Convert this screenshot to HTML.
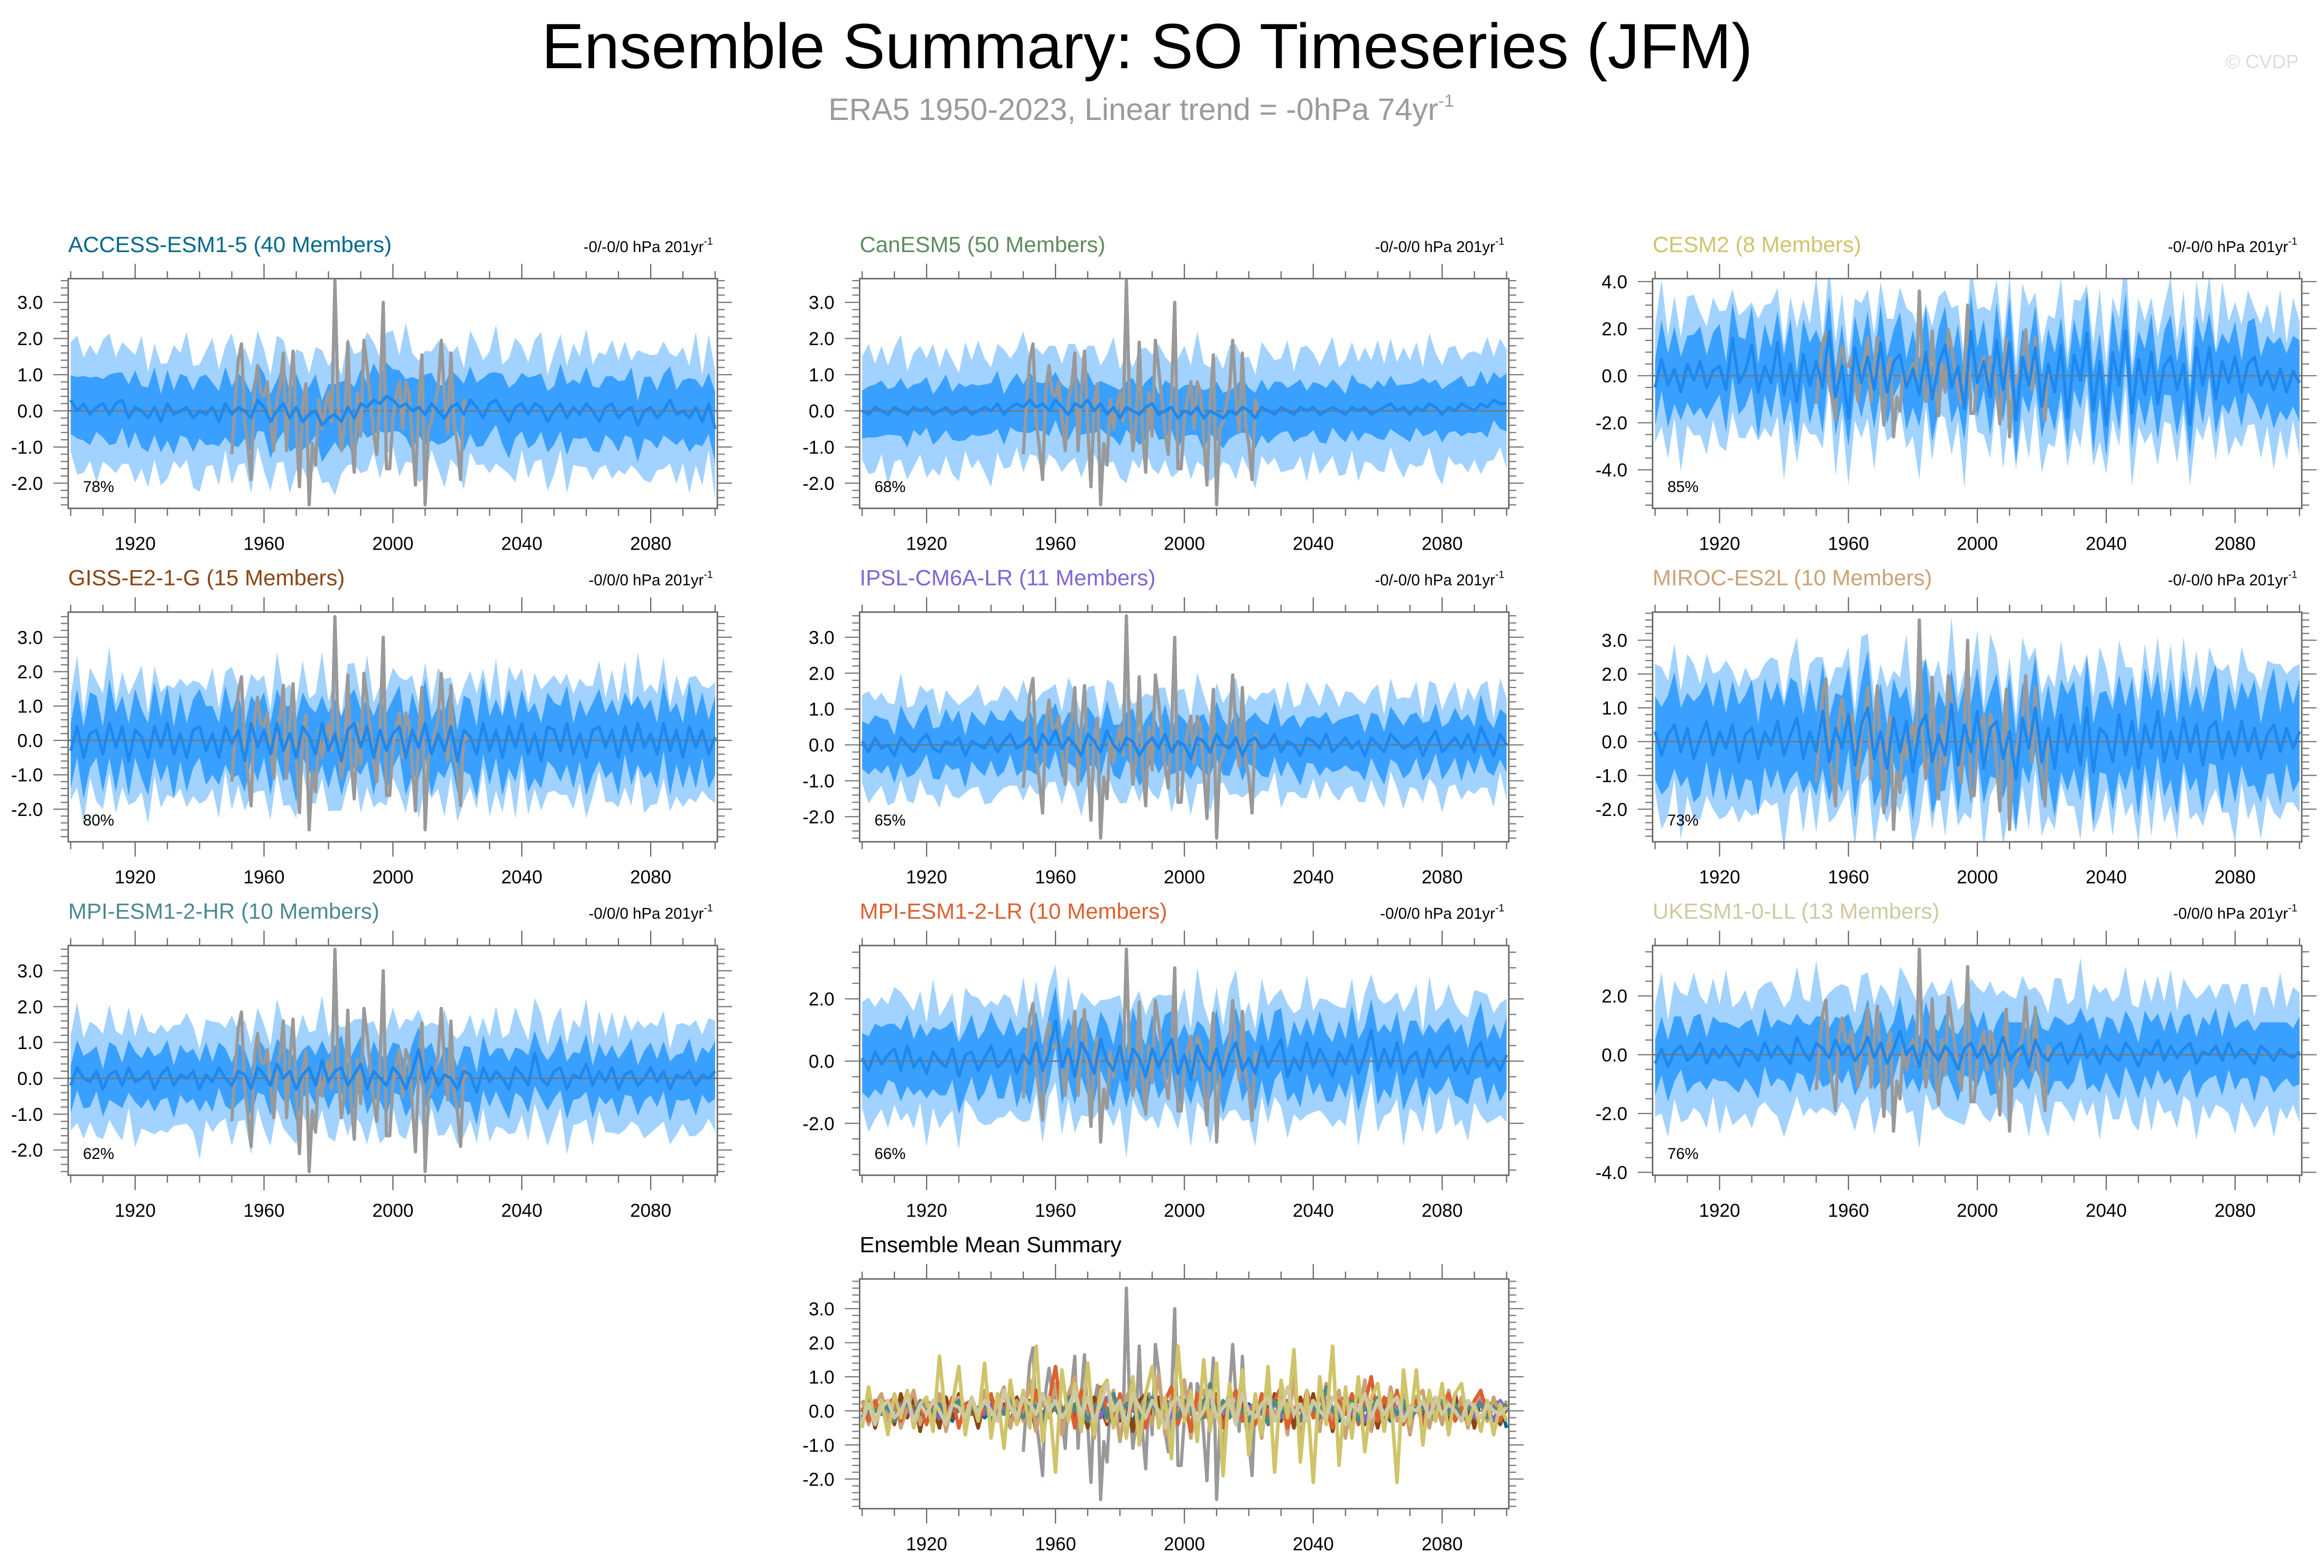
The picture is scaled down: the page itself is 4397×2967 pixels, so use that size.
<!DOCTYPE html>
<html><head><meta charset="utf-8"><title>Ensemble Summary: SO Timeseries (JFM)</title>
<style>
html,body{margin:0;padding:0;background:#fff;}
svg{display:block;font-family:"Liberation Sans",Arial,sans-serif;}
</style></head>
<body>
<svg id="chart" xmlns="http://www.w3.org/2000/svg" width="4397" height="2967" viewBox="0 0 1568 1058">
<rect x="0" y="0" width="1568" height="1058" fill="#fff"/>
<text x="774" y="46" font-size="43" text-anchor="middle" fill="#000">Ensemble Summary: SO Timeseries (JFM)</text>
<text x="770" y="81" font-size="21" text-anchor="middle" fill="#9a9a9a">ERA5 1950-2023, Linear trend = -0hPa 74yr<tspan dy="-9" font-size="12">-1</tspan></text>
<text x="1551" y="46" font-size="13" text-anchor="end" fill="#dcdcdc">© CVDP</text>
<g id="plots"></g>
</svg>
<script>
// ---------- data ----------
const obsYears0 = 1950;
const obsValues = [-1.2,0.2,1.4,1.85,-0.3,-1.0,-1.9,0.6,1.25,0.5,0.4,0.8,-0.2,-1.1,0.3,0.7,1.6,-1.1,0.5,1.65,-0.4,-2.1,0.2,0.75,-2.6,-0.9,-1.5,0.3,-0.5,0.1,0.5,-0.3,3.6,0.2,-1.1,-0.4,1.9,-0.6,-1.7,0.5,-0.7,1.95,1.2,0.3,-0.6,-1.2,0.4,3.0,-1.6,-1.6,-0.2,0.4,0.8,-0.5,0.8,0.5,-0.7,-2.05,0.2,1.55,-2.6,-0.5,-0.3,0.2,0.6,1.95,0.4,-0.6,1.6,-0.4,-0.9,-1.9,0.3,0.0];
const modelYearStart = 1900;
const modelYearEnd = 2100;
const tickYears = [1920,1960,2000,2040,2080];

const outHi = [1.0,1.3,0.8,1.2,0.9,1.1,1.4,0.8,1.0,1.2,0.9,1.3,0.8,1.1,1.0,0.7,1.2,1.0,1.3,0.9,0.8,1.1,1.2,0.9,1.0,1.4,0.8,1.1,0.9,1.2,1.0,0.8,1.3,1.1,0.9,1.0,1.2,0.7,1.1,1.3,0.9,1.0,0.8,1.2,1.1,0.9,1.3,1.0,0.8,1.1,1.2,0.9,1.4,1.0,0.8,1.1,0.9,1.2,1.3,0.9,1.0,0.8,1.2,1.1,1.0,0.9,1.3,0.8,1.1,1.2,1.0,0.9,1.1,1.3,0.8,1.0,1.2,0.9,1.1,1.0,1.3,0.8,1.2,0.9,1.1,1.0,1.2,0.8,1.3,1.0,0.9,1.1,1.2,0.8,1.0,1.1,0.9,1.3,0.8,1.2,1.0];
const outLo = [0.9,1.1,1.2,0.8,1.3,1.0,0.9,1.2,1.1,0.8,1.3,1.0,1.2,0.9,1.1,1.3,0.8,1.0,0.9,1.2,1.4,0.9,1.0,1.1,0.8,1.2,1.0,0.9,1.3,0.8,1.1,1.2,0.9,1.0,1.3,1.1,0.8,1.2,0.9,1.0,1.1,1.4,0.9,1.0,0.8,1.2,1.1,0.9,1.3,1.0,0.8,1.2,1.0,0.9,1.3,1.1,0.8,1.0,1.2,0.9,1.1,1.3,0.9,1.0,0.8,1.2,1.1,1.0,0.9,1.3,0.8,1.1,1.0,0.9,1.2,1.1,0.8,1.3,1.0,0.9,1.1,1.2,0.8,1.0,1.3,0.9,1.1,1.0,0.8,1.2,1.3,0.9,1.0,1.1,1.2,0.9,1.3,1.0,1.1,0.8,1.2];
const inHi = [0.8,1.1,0.9,1.2,1.0,0.8,1.3,1.0,0.9,1.1,1.2,0.8,1.0,1.3,0.9,1.1,0.8,1.2,1.0,0.9,1.1,1.3,0.8,1.0,1.2,0.9,1.1,1.0,0.8,1.2,1.1,0.9,1.0,1.3,0.8,1.1,1.0,0.9,1.2,0.8,1.1,1.0,1.3,0.9,1.0,1.1,0.8,1.2,0.9,1.1,1.0,1.2,0.8,1.1,0.9,1.3,1.0,0.8,1.1,1.2,0.9,1.0,1.1,0.8,1.3,1.0,0.9,1.2,1.1,0.8,1.0,1.2,0.9,1.1,1.0,0.8,1.3,1.1,0.9,1.0,1.2,0.8,1.1,1.0,0.9,1.2,1.0,1.3,0.8,1.1,1.0,0.9,1.2,1.1,0.8,1.0,1.3,0.9,1.1,1.0,1.2];
const inLo = [1.1,0.9,1.2,1.0,0.8,1.1,1.0,1.3,0.9,1.0,0.8,1.2,1.1,0.9,1.0,1.2,1.3,0.8,1.0,1.1,0.9,1.0,1.2,0.8,1.1,1.0,1.3,0.9,1.1,1.0,0.8,1.2,1.0,0.9,1.1,1.3,0.9,1.0,0.8,1.2,1.1,0.9,1.0,1.2,1.3,0.8,1.0,1.1,0.9,1.2,1.0,0.8,1.1,1.3,0.9,1.0,1.2,1.1,0.8,1.0,0.9,1.2,1.1,1.3,0.9,1.0,0.8,1.1,1.2,1.0,0.9,1.1,1.3,0.8,1.0,1.1,0.9,1.2,1.0,0.8,1.1,1.3,1.0,0.9,1.2,1.1,0.8,1.0,1.2,0.9,1.1,1.0,0.8,1.3,1.0,0.9,1.1,1.2,0.8,1.0,1.1];

const meanACCESS = [0.3,0.0,0.2,-0.1,0.1,0.2,-0.1,0.2,0.3,-0.2,0.1,0.0,-0.2,0.1,-0.3,0.2,-0.1,0.0,0.1,-0.2,0.0,-0.1,0.1,-0.3,0.2,-0.1,0.1,0.0,-0.2,0.3,0.1,-0.3,0.0,0.2,-0.2,0.1,-0.3,-0.1,0.0,-0.4,-0.2,-0.1,-0.3,0.1,-0.2,0.2,0.1,0.3,0.2,0.4,0.3,0.1,0.2,0.0,0.1,-0.1,0.2,0.0,-0.2,0.1,0.2,-0.1,0.3,0.1,-0.2,0.2,0.3,0.0,-0.3,0.1,0.2,-0.1,0.2,0.1,-0.3,0.0,0.2,-0.2,0.1,-0.1,0.2,0.0,-0.3,0.1,0.2,-0.2,0.0,0.1,-0.4,0.0,0.1,-0.2,0.0,0.3,-0.1,0.0,-0.2,0.1,-0.3,0.2,-0.5];
const meanCanESM5 = [0.0,-0.1,0.1,0.0,-0.1,0.1,0.0,-0.1,0.1,0.0,0.1,-0.1,0.0,0.1,-0.1,0.0,0.1,-0.1,0.0,0.1,0.0,0.2,-0.1,0.1,0.2,0.1,0.3,0.1,0.2,0.0,0.3,0.1,-0.1,0.2,0.1,0.3,0.0,0.2,-0.1,0.1,-0.2,0.1,0.0,-0.1,0.1,0.2,-0.1,0.0,0.1,-0.2,0.0,-0.1,0.1,-0.2,0.0,-0.1,-0.2,0.0,-0.1,0.1,0.0,-0.2,0.1,0.0,-0.1,0.1,0.0,-0.1,0.1,0.0,0.1,-0.1,0.0,0.1,0.0,-0.1,0.1,0.0,0.1,-0.1,0.0,0.1,0.2,0.0,0.1,-0.1,0.1,0.0,0.2,0.1,-0.1,0.1,0.0,0.2,0.1,0.0,0.2,0.1,0.3,0.2,0.2];
const meanCESM2 = [-0.5,0.7,-0.4,0.3,-0.7,0.5,-0.2,0.6,-0.5,0.2,0.4,-0.6,1.6,-0.3,0.2,1.3,-0.7,0.4,-0.3,1.4,-0.8,0.5,-1.1,0.9,-0.4,0.6,-0.5,1.9,-0.9,0.4,-1.8,1.2,-0.3,0.8,-0.6,1.4,-0.7,0.6,0.9,-0.5,0.3,-0.8,1.0,-1.0,0.5,1.3,-0.5,0.4,-1.4,1.9,-0.3,0.6,-0.9,1.5,-0.6,1.4,-1.9,0.8,-0.4,1.2,-1.3,0.5,-0.7,1.3,-1.8,0.9,-0.2,1.8,-1.5,0.6,-2.1,1.0,-0.4,1.9,-1.6,0.7,-0.8,1.0,-1.2,0.4,0.8,-0.6,0.5,-2.1,1.2,-0.4,1.2,-1.0,0.6,-0.3,0.8,-0.7,0.5,0.8,-0.4,0.2,-0.6,0.3,-0.7,0.2,-0.3];
const meanGISS = [-0.3,0.4,-0.5,0.2,0.3,-0.4,0.5,-0.2,0.4,-0.6,0.3,0.1,-0.5,0.4,-0.2,0.5,-0.4,0.2,-0.5,0.3,0.4,-0.3,0.2,-0.5,0.4,-0.1,0.3,-0.6,0.5,-0.2,0.3,-0.4,0.5,-0.3,0.2,-0.5,0.4,0.1,-0.4,0.5,-0.3,0.2,-0.6,0.3,0.5,-0.2,0.4,-0.5,0.3,-0.3,0.2,0.4,-0.5,0.3,-0.2,0.5,-0.4,0.2,-0.3,0.4,-0.6,0.3,0.1,-0.4,0.5,-0.3,0.3,-0.5,0.4,-0.2,0.5,-0.4,0.2,-0.6,0.4,0.3,-0.3,0.5,-0.4,0.2,-0.5,0.3,0.4,-0.2,0.3,-0.5,0.4,-0.3,0.5,-0.2,0.2,-0.4,0.5,-0.3,0.3,-0.5,0.4,-0.2,0.3,-0.4,0.1];
const meanIPSL = [0.1,-0.2,0.2,-0.1,0.0,-0.3,0.2,0.0,-0.2,0.1,0.3,-0.1,-0.2,0.1,0.0,0.2,-0.3,0.1,0.0,-0.1,0.2,-0.2,0.1,0.3,-0.1,0.0,0.2,-0.2,0.3,0.0,0.4,-0.1,0.2,0.0,-0.3,0.3,0.1,-0.2,0.4,0.0,-0.2,0.2,0.1,-0.3,0.0,0.2,-0.1,0.3,-0.2,0.1,0.0,-0.4,0.2,0.1,-0.2,0.3,0.0,-0.1,0.2,-0.3,0.1,0.2,-0.1,0.0,0.3,-0.2,0.1,0.0,-0.3,0.2,0.1,-0.1,0.3,-0.2,0.0,0.2,-0.1,0.1,-0.3,0.2,0.0,-0.2,0.3,0.1,-0.1,0.0,0.2,-0.3,0.1,0.4,-0.2,0.0,0.2,-0.1,0.3,-0.2,0.5,0.1,-0.3,0.3,0.0];
const meanMIROC = [0.3,-0.4,0.2,0.5,-0.3,0.4,-0.5,0.1,0.6,-0.4,0.3,-0.2,0.5,-0.6,0.2,0.4,-0.5,0.3,-0.1,0.6,-0.4,0.2,0.7,-0.5,0.3,-0.3,0.9,-0.6,0.4,-0.2,0.8,-0.7,0.5,1.0,-0.5,0.3,-0.8,0.7,-0.3,0.6,-0.9,0.4,0.8,-0.6,0.2,-0.4,1.1,-0.7,0.5,-0.3,0.9,-0.8,0.4,0.6,-0.5,0.3,-1.1,0.7,-0.2,1.0,-0.6,0.4,-0.8,0.8,-0.3,0.5,-0.7,1.0,-0.9,0.4,0.2,-0.6,0.8,-0.4,0.6,-0.8,0.5,-0.2,0.9,-0.6,0.3,-0.5,0.7,-0.3,0.5,-0.7,0.4,0.6,-0.5,0.3,-0.4,0.6,-0.3,0.4,-0.5,0.2,0.5,-0.3,0.4,-0.2,0.3];
const meanMPIHR = [-0.2,0.3,0.0,-0.1,0.2,-0.3,0.1,0.2,-0.2,0.3,-0.1,0.0,0.2,-0.3,0.1,0.3,-0.2,0.1,0.0,0.2,-0.3,0.1,-0.1,0.3,0.0,-0.2,0.2,0.1,-0.3,0.3,0.1,-0.2,0.4,0.0,0.2,-0.3,0.1,0.3,-0.2,0.5,-0.1,0.2,0.3,-0.2,0.1,0.4,-0.3,0.2,0.0,-0.2,0.3,0.1,-0.3,0.2,0.8,-0.1,0.3,-0.2,0.1,0.0,-0.3,0.2,0.1,-0.4,0.3,-0.1,0.2,0.0,-0.3,0.3,0.1,-0.2,0.7,0.0,-0.2,0.2,0.3,-0.3,0.1,0.0,0.4,-0.2,0.2,-0.1,0.3,-0.3,0.1,0.2,-0.2,0.0,0.3,-0.1,0.2,-0.3,0.1,0.0,0.2,-0.2,0.1,0.0,0.2];
const meanMPILR = [0.1,-0.3,0.3,-0.1,0.2,0.4,-0.3,0.5,-0.2,0.1,-0.4,0.3,0.0,-0.2,0.4,-0.5,0.2,0.3,-0.3,0.1,0.5,-0.2,0.0,0.4,-0.4,0.2,-0.1,0.6,-0.3,0.3,1.3,-0.2,0.4,-0.5,0.6,0.2,-0.4,0.7,0.0,-0.3,0.5,-0.6,0.4,0.1,-0.5,0.4,-0.2,0.3,0.7,-0.4,0.2,-0.6,0.5,0.0,-0.3,0.4,-0.5,0.2,0.6,-0.3,0.1,-0.4,0.5,-0.2,0.3,0.7,-0.5,0.1,-0.3,0.6,-0.2,0.4,0.0,-0.5,0.3,-0.1,0.5,-0.4,0.2,1.0,-0.3,0.4,-0.2,0.6,-0.4,0.1,0.3,-0.5,0.4,-0.2,0.2,0.5,-0.3,0.1,-0.4,0.3,0.6,-0.2,0.1,-0.3,0.2];
const meanUKESM = [-0.3,0.2,-0.4,0.1,0.3,-0.2,0.0,0.4,-0.3,0.2,-0.1,0.3,0.0,-0.4,0.2,0.1,-0.2,0.4,-0.1,0.3,0.0,-0.3,0.6,0.1,-0.2,0.4,0.2,-0.1,0.5,0.0,0.3,-0.2,0.1,0.6,-0.1,0.4,-0.3,0.2,0.8,0.0,0.3,-0.4,0.5,0.1,-0.2,0.3,0.0,-0.5,0.2,0.4,-0.1,0.3,-0.3,0.0,0.6,-0.2,0.1,0.3,-0.4,0.5,0.0,-0.2,0.2,0.4,-0.3,0.1,0.7,-0.1,0.2,-0.3,0.3,0.0,-0.2,0.4,0.1,-0.4,0.2,0.0,0.5,-0.2,0.3,-0.1,0.2,0.4,-0.3,0.1,0.0,0.3,-0.2,0.4,-0.1,0.2,0.0,-0.3,0.3,0.1,-0.2,0.2,0.0,-0.1,0.1];

const modelNames = ["ACCESS-ESM1-5 (40 Members)","CanESM5 (50 Members)","CESM2 (8 Members)","GISS-E2-1-G (15 Members)","IPSL-CM6A-LR (11 Members)","MIROC-ES2L (10 Members)","MPI-ESM1-2-HR (10 Members)","MPI-ESM1-2-LR (10 Members)","UKESM1-0-LL (13 Members)"];
const modelMeans = [meanACCESS,meanCanESM5,meanCESM2,meanGISS,meanIPSL,meanMIROC,meanMPIHR,meanMPILR,meanUKESM];
const outerSpread = [1.6,1.5,2.6,1.6,1.3,2.0,1.4,1.8,2.0];
const innerSpread = [0.85,0.7,1.5,1.0,0.7,1.3,0.7,1.0,1.0];
const trendLabels = ["-0/-0/0","-0/-0/0","-0/-0/0","-0/0/0","-0/-0/0","-0/-0/0","-0/0/0","-0/0/0","-0/0/0"];
const pctLabels = ["78%","68%","85%","80%","65%","73%","62%","66%","76%"];
const ticks3 = [3,2,1,0,-1,-2];
const ticks4 = [4,2,0,-2,-4];
const ticks2 = [2,0,-2];
const ticks2b = [2,0,-2,-4];

// ---------- layout (not data) ----------
const titleColors = ["#00688b","#5e8c5e","#cfc46a","#8b4513","#8064d8","#caa274","#4b8a8e","#dc6030","#cfc9a2"];
const colX = [46,580,1115];
const rowY = [188,413,638,863];
const BW = 438, BH = 155;
const yCal = [[3,204,-2,326],[3,204,-2,326],[4,190,-4,317],[3,430,-2,546],[3,430,-2,551],[3,432,-2,546],[3,655,-2,776],[2,674,-2,758],[2,672,-4,791],[3,883,-2,998]];
const tickSets = [ticks3,ticks3,ticks4,ticks3,ticks3,ticks3,ticks3,ticks2,ticks2b,ticks3];

const NS = "http://www.w3.org/2000/svg";
const root = document.getElementById("plots");
function mk(tag, attrs, parent){
  const e = document.createElementNS(NS, tag);
  for (const k in attrs) e.setAttribute(k, attrs[k]);
  (parent||root).appendChild(e);
  return e;
}

function drawPanel(idx, bx, by, title, tColor, trend, pct, isSummary){
  const g = mk("g", {});
  
  
  const cal = yCal[idx];
  const uy = (cal[3]-cal[1])/(cal[0]-cal[2]);
  const zeroY = cal[1] + cal[0]*uy;
  const yS = v => zeroY - v*uy;
  const x0 = bx + 1.7, x1 = bx + BW - 1.5;
  const xS = yr => x0 + (yr - modelYearStart)/(modelYearEnd - modelYearStart)*(x1 - x0);
  const clipId = "clip" + idx;
  const cp = mk("clipPath", {id: clipId}, g);
  mk("rect", {x: bx, y: by, width: BW, height: BH}, cp);
  const plot = mk("g", {"clip-path": "url(#" + clipId + ")"}, g);

  function seriesX(arr, i){ return modelYearStart + i*(modelYearEnd-modelYearStart)/(arr.length-1); }
  function bandPath(mean, hiArr, loArr, s){
    let up = [], dn = [];
    for (let i=0;i<mean.length;i++){
      const yr = seriesX(mean,i);
      up.push(xS(yr).toFixed(2)+","+yS(mean[i]+s*hiArr[i%hiArr.length]).toFixed(2));
      dn.push(xS(yr).toFixed(2)+","+yS(mean[i]-s*loArr[i%loArr.length]).toFixed(2));
    }
    return "M"+up.join("L")+"L"+dn.reverse().join("L")+"Z";
  }
  function linePath(arr, start, step){
    return arr.map((v,i)=> (i?"L":"M") + xS(start+i*step).toFixed(2)+","+yS(v).toFixed(2)).join("");
  }

  if (!isSummary){
    const mean = modelMeans[idx];
    const ob = mk("path", {d: bandPath(mean, outHi, outLo, outerSpread[idx]), fill: "#a2d2ff"}, plot);
    
    
    const ib = mk("path", {d: bandPath(mean, inHi, inLo, innerSpread[idx]), fill: "#3aa0ff"}, plot);
    
    
  }
  const zl = mk("line", {x1: bx, x2: bx+BW, y1: zeroY, y2: zeroY, stroke: "#777", "stroke-width": 1}, plot);
  
  
  const obs = mk("path", {d: linePath(obsValues, obsYears0, 1), fill: "none", stroke: "#999", "stroke-width": 2.2, "stroke-linejoin": "round"}, plot);
  
  
  if (!isSummary){
    const mean = modelMeans[idx];
    const ml = mk("path", {d: linePath(mean, modelYearStart, (modelYearEnd-modelYearStart)/(mean.length-1)), fill: "none", stroke: "#1e88ee", "stroke-width": 2.0, "stroke-linejoin": "round"}, plot);
    
    
  } else {
    const order = [0,1,3,4,5,7,6,2,8];
    order.forEach(k => {
      const mean = modelMeans[k];
      const l = mk("path", {d: linePath(mean, modelYearStart, (modelYearEnd-modelYearStart)/(mean.length-1)), fill: "none", stroke: titleColors[k], "stroke-width": 2.4, "stroke-linejoin": "round"}, plot);
      
      
    });
  }
  const fr = mk("rect", {x: bx, y: by, width: BW, height: BH, fill: "none", stroke: "#666", "stroke-width": 1}, g);
  
  
  for (let yr = modelYearStart; yr <= modelYearEnd; yr += 10){
    const maj = tickYears.indexOf(yr) >= 0;
    const L = maj ? 10 : 5;
    const x = xS(yr);
    mk("line", {x1:x, x2:x, y1:by, y2:by-L, stroke:"#666", "stroke-width":0.8}, g);
    mk("line", {x1:x, x2:x, y1:by+BH, y2:by+BH+L, stroke:"#666", "stroke-width":0.8}, g);
  }
  tickYears.forEach(yr => {
    const t = mk("text", {x: xS(yr), y: by+BH+28, "font-size": 12.5, "text-anchor": "middle", fill: "#000"}, g);
    t.textContent = yr;
    
    
  });
  const ticks = tickSets[idx];
  const stepMaj = Math.abs(ticks[0]-ticks[1]);
  const minorStep = stepMaj >= 2 ? 0.5 : 0.2;
  const vTop = (zeroY - by)/uy, vBot = (zeroY - by - BH)/uy;
  for (let k = Math.ceil(vBot/minorStep); k*minorStep <= vTop + 1e-6; k++){
    const v = k*minorStep;
    const yy = yS(v);
    const isMaj = ticks.some(t => Math.abs(t - v) < 1e-6);
    const L = isMaj ? 10 : 5;
    mk("line", {x1:bx, x2:bx-L, y1:yy, y2:yy, stroke:"#777", "stroke-width":0.8}, g);
    mk("line", {x1:bx+BW, x2:bx+BW+L, y1:yy, y2:yy, stroke:"#777", "stroke-width":0.8}, g);
  }
  ticks.forEach(v => {
    const t = mk("text", {x: bx-17, y: yS(v)+4.5, "font-size": 12.5, "text-anchor": "end", fill: "#000"}, g);
    t.textContent = v.toFixed(1);
    
    
  });
  const tt = mk("text", {x: bx, y: by-18, "font-size": 15, fill: tColor}, g);
  tt.textContent = title;
  
  
  if (!isSummary){
    const tr = mk("text", {x: bx+BW-3, y: by-18, "font-size": 10.5, "text-anchor": "end", fill: "#000"}, g);
    tr.appendChild(document.createTextNode(trend + " hPa 201yr"));
    const sup = mk("tspan", {dy: -5, "font-size": 7}, tr);
    sup.textContent = "-1";
    
    
    const pc = mk("text", {x: bx+10, y: by+BH-11, "font-size": 10.5, fill: "#000"}, g);
    pc.textContent = pct;
    
    
  }
}

for (let i=0;i<9;i++){
  drawPanel(i, colX[i%3], rowY[Math.floor(i/3)], modelNames[i], titleColors[i], trendLabels[i], pctLabels[i], false);
}
drawPanel(9, colX[1], rowY[3], "Ensemble Mean Summary", "#000", "", "", true);
</script>
</body></html>
